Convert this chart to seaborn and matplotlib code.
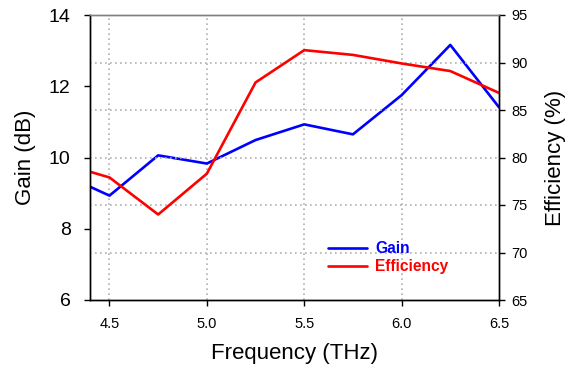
import matplotlib
matplotlib.use("Agg")
import matplotlib.pyplot as plt
import seaborn as sns
import pandas as pd

# Measured antenna response across the band
freq = [4.4, 4.5, 4.75, 5.0, 5.25, 5.5, 5.75, 6.0, 6.25, 6.5]
gain_db = [9.18, 8.93, 10.06, 9.83, 10.49, 10.93, 10.65, 11.75, 13.16, 11.41]
efficiency_pct = [78.5, 77.9, 74.0, 78.3, 87.9, 91.3, 90.8, 89.9, 89.1, 86.8]

x_ticks = [4.5, 5.0, 5.5, 6.0, 6.5]
gain_ticks = [6, 8, 10, 12, 14]
eff_ticks = [65, 70, 75, 80, 85, 90, 95]

df = pd.DataFrame({"freq": freq, "gain": gain_db, "eff": efficiency_pct})

sns.set_style("white")
plt.rcParams["font.family"] = ["Liberation Sans", "DejaVu Sans"]
plt.rcParams["text.color"] = "black"
plt.rcParams["axes.labelcolor"] = "black"

fig = plt.figure(figsize=(5.72, 3.69), dpi=100)
ax = fig.add_axes([90 / 572, 1 - 300 / 369, 409 / 572, 285 / 369])
ax2 = ax.twinx()

sns.lineplot(data=df, x="freq", y="gain", ax=ax, color="#0000ff", lw=1.9, label="Gain", legend=False)
sns.lineplot(data=df, x="freq", y="eff", ax=ax2, color="#ff0000", lw=1.9, label="Efficiency", legend=False)

ax.set_xlim(4.4, 6.5)
ax.set_ylim(6, 14)
ax2.set_ylim(65, 95)
ax.set_xticks(x_ticks)
ax.set_xticklabels([f"{v:.1f}" for v in x_ticks])
ax.set_yticks(gain_ticks)
ax2.set_yticks(eff_ticks)

# Dotted grid: vertical at frequency ticks, horizontal at efficiency ticks
for xv in x_ticks[:-1]:
    ax.axvline(xv, color="#b0b0b0", ls=(0, (1, 2)), lw=1.2, zorder=0)
for yv in eff_ticks[1:-1]:
    ax2.axhline(yv, color="#b0b0b0", ls=(0, (1, 2)), lw=1.2, zorder=0)

for a in (ax, ax2):
    for side in ("left", "right", "bottom"):
        a.spines[side].set_color("black")
        a.spines[side].set_linewidth(1.0)
    a.spines["top"].set_color("#808080")
    a.spines["top"].set_linewidth(1.0)

ax.tick_params(axis="y", direction="out", length=4, width=1, pad=10, labelsize=14, left=True, colors="black")
ax.tick_params(axis="x", direction="out", length=4, width=1, pad=8, labelsize=10.5, bottom=True, colors="black")
ax2.tick_params(axis="y", direction="out", length=4, width=1, pad=5, labelsize=10.5, right=True, colors="black")

ax.set_xlabel("Frequency (THz)", fontsize=16, labelpad=9)
ax.set_ylabel("Gain (dB)", fontsize=16, labelpad=9)
ax2.set_ylabel("Efficiency (%)", fontsize=16, labelpad=12)

h1, l1 = ax.get_legend_handles_labels()
h2, l2 = ax2.get_legend_handles_labels()
leg = ax2.legend(h1 + h2, l1 + l2, loc="upper left",
                 bbox_to_anchor=(328 / 572, 1 - 241 / 369), bbox_transform=fig.transFigure,
                 frameon=False, handlelength=2.5, handletextpad=0.55, labelspacing=0.2,
                 borderpad=0, borderaxespad=0, prop={"size": 11.2, "weight": "bold"})
for txt, col in zip(leg.get_texts(), ["#0000ff", "#ff0000"]):
    txt.set_color(col)

fig.savefig("out.png", dpi=100)
